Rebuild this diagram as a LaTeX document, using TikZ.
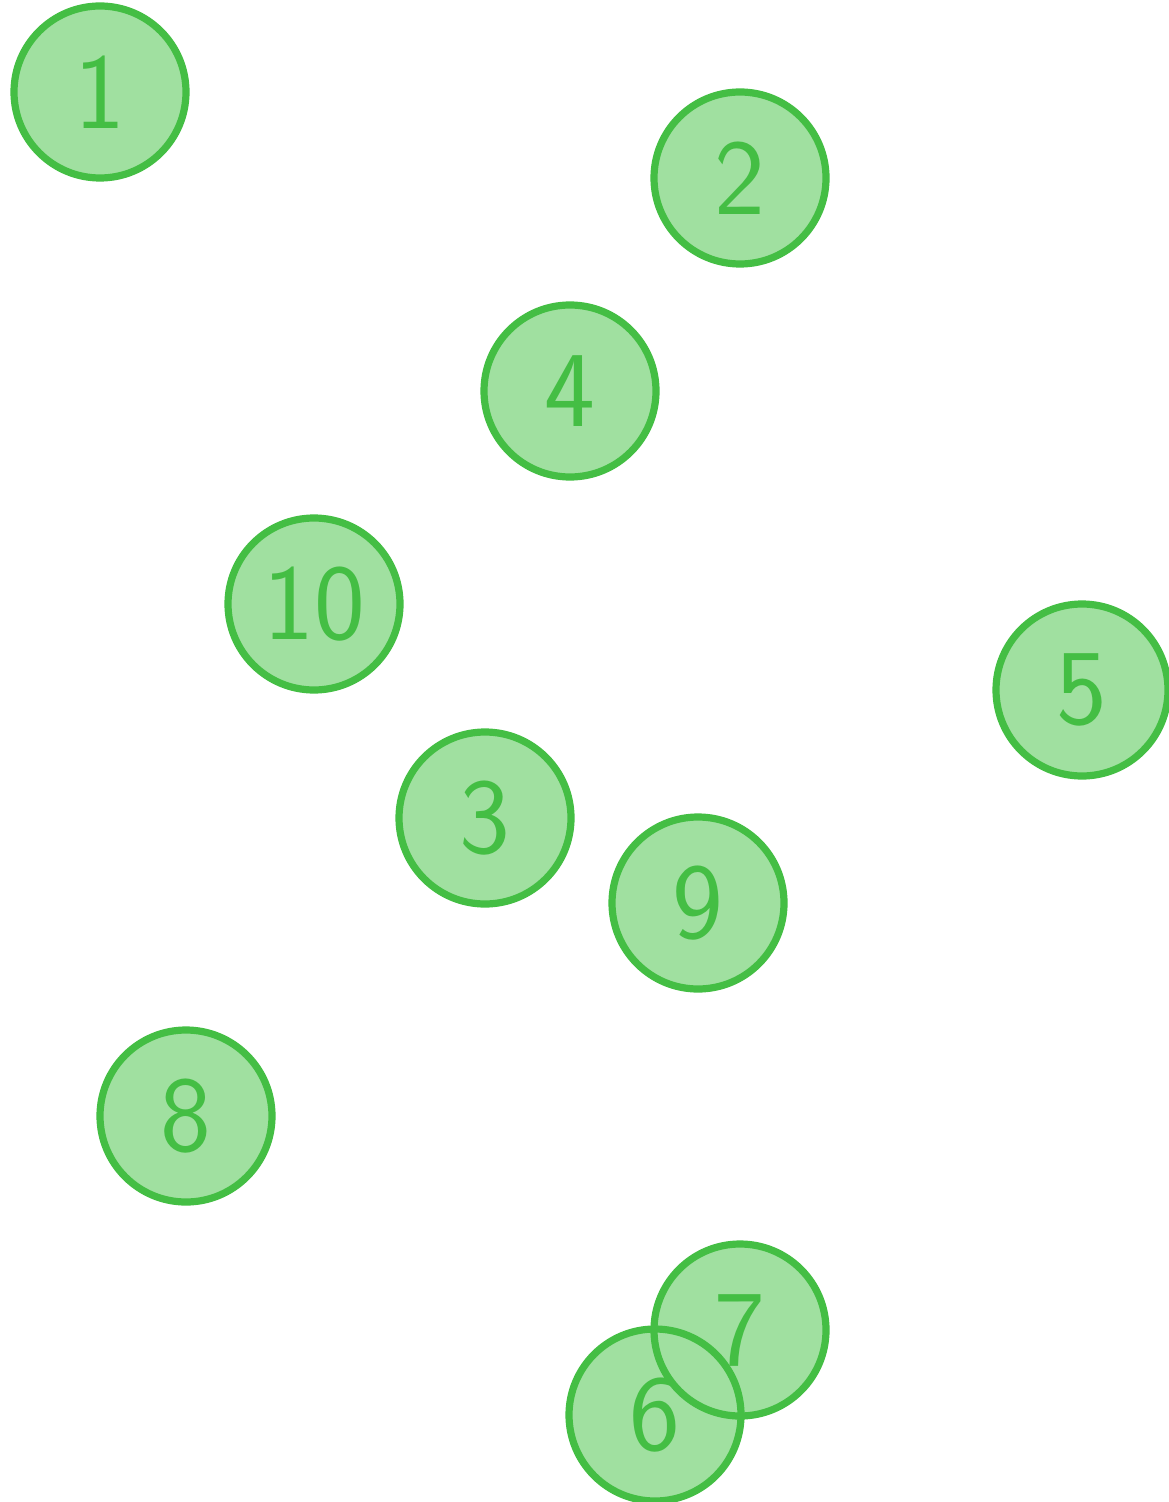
\documentclass[tikz,border=0pt]{standalone}
\usepackage{fontspec}
\definecolor{ringgreen}{RGB}{68,190,68}
\definecolor{fillgreen}{RGB}{160,224,160}
\begin{document}
\begin{tikzpicture}[x=0.5pt,y=-0.5pt,
  bubblefill/.style={fill=fillgreen},
  bubble/.style={circle,draw=ringgreen,line width=3.6pt,minimum size=86pt,inner sep=0pt,
    text=ringgreen,font=\sffamily\fontsize{54}{58}\selectfont}]
\useasboundingbox (0,0) rectangle (1168,1502);
\foreach \x/\y in {100/92,740/178,570/391,314/604,1082/690,485/818,698/903,186/1116,740/1330,655/1415}
  \fill[bubblefill] (\x,\y) circle (43pt);
\node[bubble] (n1) at (100,92) {1};
\node[bubble] (n2) at (740,178) {2};
\node[bubble] (n4) at (570,391) {4};
\node[bubble] (n10) at (314,604) {10};
\node[bubble] (n5) at (1082,690) {5};
\node[bubble] (n3) at (485,818) {3};
\node[bubble] (n9) at (698,903) {9};
\node[bubble] (n8) at (186,1116) {8};
\node[bubble] (n7) at (740,1330) {7};
\node[bubble] (n6) at (655,1415) {6};
\end{tikzpicture}
\end{document}
